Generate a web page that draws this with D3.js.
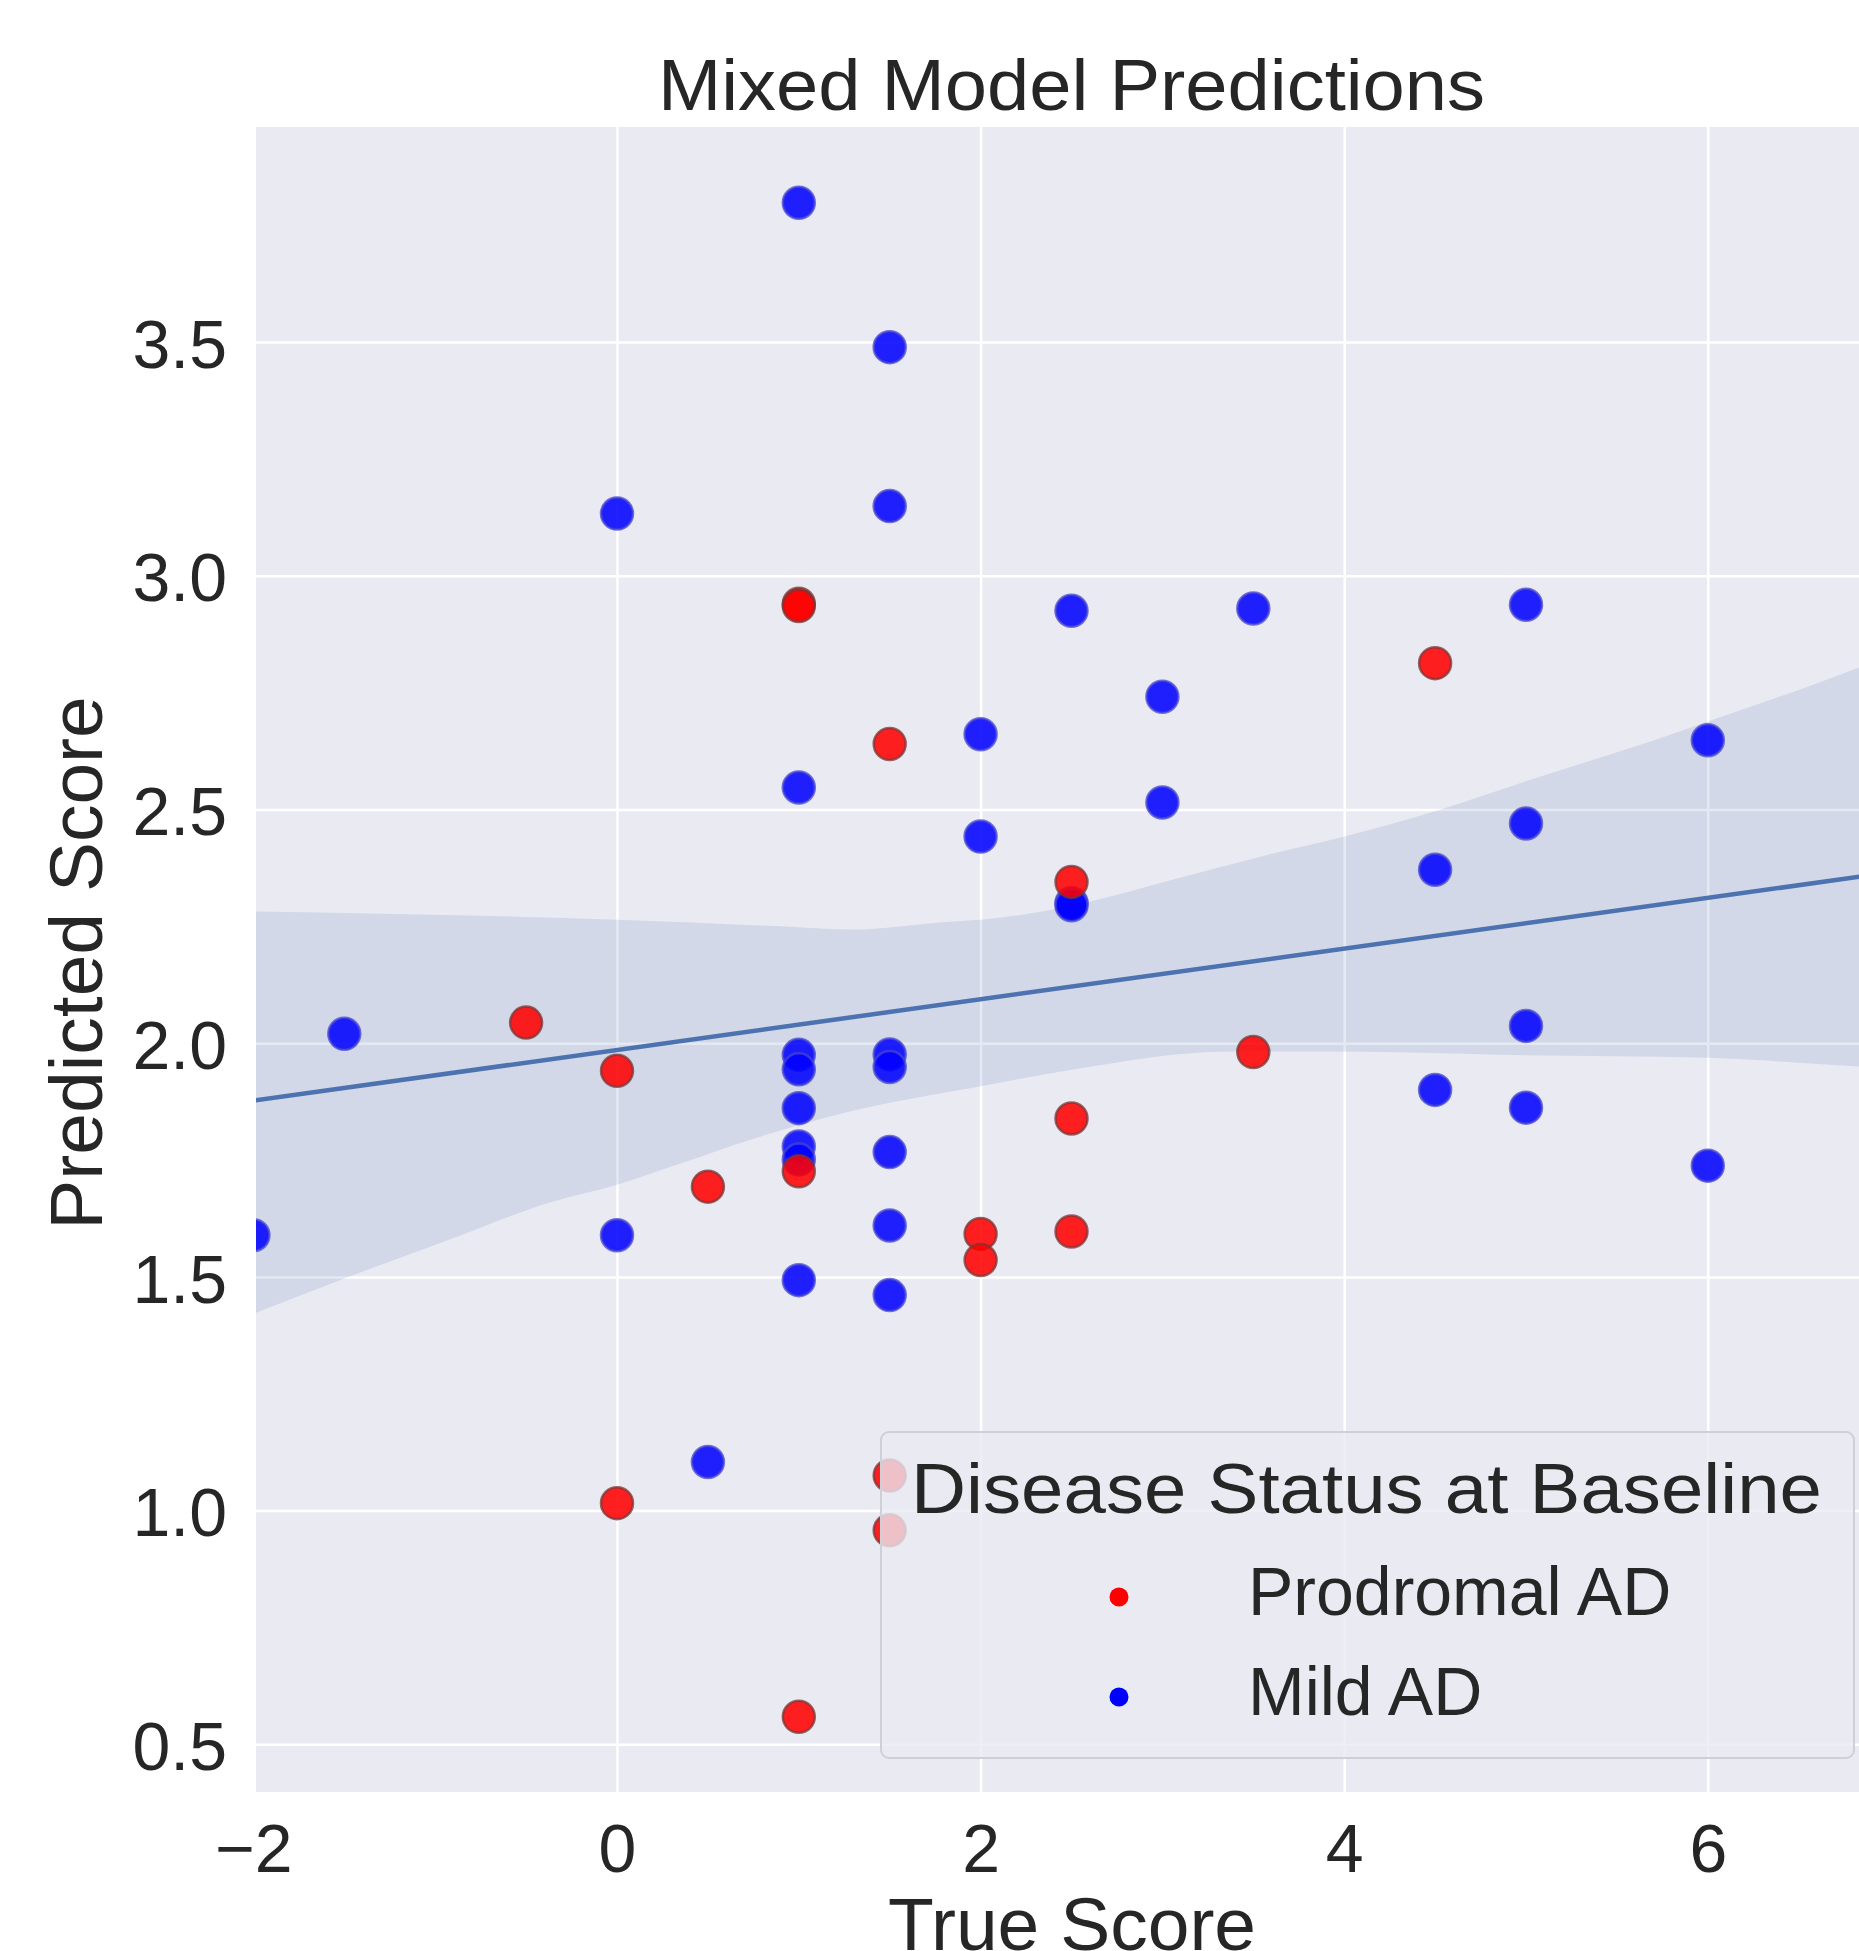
<!DOCTYPE html>
<html>
<head>
<meta charset="utf-8">
<script src="https://cdn.jsdelivr.net/npm/d3@7"></script>
<style>
  html, body { margin: 0; padding: 0; background: #ffffff; }
  svg { display: block; }
  text { font-family: "Liberation Sans", Arial, Helvetica, sans-serif; fill: #262626; }
</style>
</head>
<body>
<svg id="chart" width="1859" height="1951"></svg>
<script>
// ---------------- data ----------------
const seriesNames = ["Prodromal AD", "Mild AD"];
const seriesColors = ["#ff0000", "#0000ff"];

const prodromalTrue = [1, 1, 4.5, 1.5, 2.5, -0.5, 0, 3.5, 2.5, 0.5, 1, 2, 2, 2.5, 0, 1.5, 1.5, 1];
const prodromalPred = [2.94, 2.935, 2.813, 2.640, 2.345, 2.044, 1.941, 1.981, 1.839, 1.693, 1.726, 1.592, 1.536, 1.597, 1.016, 1.075, 0.958, 0.559];

const mildTrue = [1, 1.5, 0, 1.5, 2.5, 3.5, 5, 3, 2, 6, 1, 3, 5, 2, 4.5, 2.5, 2.5,
                  -1.5, 1, 1, 1.5, 1.5, 5, 1, 4.5, 5, 1, 1.5, 1, 6, -2, 0, 1.5, 1, 1.5, 0.5];
const mildPred = [3.798, 3.489, 3.133, 3.149, 2.925, 2.930, 2.938, 2.741, 2.661, 2.648, 2.547, 2.515, 2.470, 2.442, 2.371, 2.300, 2.295,
                  2.020, 1.975, 1.944, 1.976, 1.949, 2.037, 1.861, 1.900, 1.862, 1.779, 1.767, 1.751, 1.738, 1.589, 1.589, 1.610, 1.493, 1.461, 1.104];

// regression fit line and its confidence band
const regX = [-2, 7];
const regY = [1.877, 2.365];
const upperX = [-2,    0,     1,     1.28,  1.83,  2,     2.57,  3.06,  3.55,  4,     4.53,  5.02,  5.68,  6,     6.84,  7];
const upperY = [2.282, 2.264, 2.248, 2.243, 2.260, 2.264, 2.300, 2.350, 2.400, 2.442, 2.500, 2.563, 2.645, 2.688, 2.805, 2.830];
const lowerX = [-2,    -1.47, -0.92, -0.37, 0,     0.36,  0.73,  1.28,  2,     2.5,   3.37,  4,     4.86,  6,     6.84,  7];
const lowerY = [1.421, 1.501, 1.580, 1.659, 1.697, 1.744, 1.793, 1.854, 1.908, 1.943, 1.982, 1.982, 1.975, 1.969, 1.950, 1.947];

const xTicks = [-2, 0, 2, 4, 6];
const yTicks = [0.5, 1.0, 1.5, 2.0, 2.5, 3.0, 3.5];

const titleText = "Mixed Model Predictions";
const xLabelText = "True Score";
const yLabelText = "Predicted Score";
const legendTitleText = "Disease Status at Baseline";

// ---------------- layout ----------------
const plotLeft = 256, plotRight = 1889.6, plotTop = 127, plotBottom = 1792;
const svg = d3.select("#chart");

const x = d3.scaleLinear().domain([-2, 7]).range([253.4, 1889.6]);
const y = d3.scaleLinear().domain([0.398, 3.96]).range([plotBottom, plotTop]);

svg.append("defs").append("clipPath").attr("id", "plotclip")
  .append("rect").attr("x", plotLeft).attr("y", plotTop)
  .attr("width", plotRight - plotLeft).attr("height", plotBottom - plotTop);

// background
svg.append("rect").attr("x", plotLeft).attr("y", plotTop)
  .attr("width", plotRight - plotLeft).attr("height", plotBottom - plotTop)
  .attr("fill", "#eaeaf2");

// grid via axes
const gx = svg.append("g").attr("transform", `translate(0,${plotBottom})`)
  .call(d3.axisBottom(x).tickValues(xTicks).tickSize(-(plotBottom - plotTop)).tickFormat(d3.format("d")));
gx.select(".domain").remove();
gx.selectAll(".tick line").attr("stroke", "#ffffff").attr("stroke-width", 2.5);
gx.selectAll(".tick text").attr("font-size", 68).attr("fill", "#262626")
  .attr("dy", null).attr("y", 80);

const gy = svg.append("g").attr("transform", `translate(${plotLeft},0)`)
  .call(d3.axisLeft(y).tickValues(yTicks).tickSize(-(plotRight - plotLeft)).tickFormat(d3.format(".1f")).tickPadding(29));
gy.select(".domain").remove();
gy.selectAll(".tick line").attr("stroke", "#ffffff").attr("stroke-width", 2.5);
gy.selectAll(".tick text").attr("font-size", 68).attr("fill", "#262626").attr("dy", "0.37em");

const plot = svg.append("g").attr("clip-path", "url(#plotclip)");

// confidence band: upper edge left-to-right, then lower edge right-to-left
const upperPts = upperX.map((v, i) => [x(v), y(upperY[i])]);
const lowerPts = lowerX.map((v, i) => [x(v), y(lowerY[i])]);
const edge = d3.line().curve(d3.curveMonotoneX);
const upperPath = edge(upperPts);
const lowerPathRev = d3.line().curve(d3.curveMonotoneX)(lowerPts.slice().reverse().map(p => [p[0], p[1]]));
plot.append("path")
  .attr("d", upperPath + "L" + lowerPts[lowerPts.length - 1].join(",") +
             lowerPathRev.replace(/^M[^LC]*/, "") + "Z")
  .attr("fill", "#4c72b0").attr("fill-opacity", 0.15);

// regression line
plot.append("path").datum(regX.map((v, i) => [v, regY[i]]))
  .attr("d", d3.line().x(d => x(d[0])).y(d => y(d[1])))
  .attr("fill", "none").attr("stroke", "#4c72b0").attr("stroke-width", 4.5);

// points
const strokeColors = ["#7a3535", "#4646d0"];
const seriesData = [
  prodromalTrue.map((v, i) => ({ x: v, y: prodromalPred[i] })),
  mildTrue.map((v, i) => ({ x: v, y: mildPred[i] }))
];
[1, 0].forEach(si => {
  plot.append("g").selectAll("circle").data(seriesData[si]).join("circle")
    .attr("cx", d => x(d.x)).attr("cy", d => y(d.y)).attr("r", 16)
    .attr("fill", seriesColors[si]).attr("fill-opacity", 0.87)
    .attr("stroke", strokeColors[si]).attr("stroke-opacity", 0.75).attr("stroke-width", 2.5);
});

// title and axis labels
svg.append("text").attr("x", 1071.5).attr("y", 110).attr("text-anchor", "middle")
  .attr("font-size", 72).attr("textLength", 827).attr("lengthAdjust", "spacingAndGlyphs").text(titleText);
svg.append("text").attr("x", 1072).attr("y", 1950).attr("text-anchor", "middle")
  .attr("font-size", 75).text(xLabelText);
svg.append("text").attr("transform", "translate(102,963) rotate(-90)").attr("text-anchor", "middle")
  .attr("font-size", 75).text(yLabelText);

// legend
const legend = svg.append("g");
legend.append("rect").attr("x", 881).attr("y", 1432).attr("width", 973).attr("height", 326)
  .attr("rx", 8).attr("ry", 8)
  .attr("fill", "#eaeaf2").attr("fill-opacity", 0.8)
  .attr("stroke", "#cfcfd8").attr("stroke-width", 2);
legend.append("text").attr("x", 911).attr("y", 1513).attr("font-size", 71)
  .attr("textLength", 911).attr("lengthAdjust", "spacingAndGlyphs").text(legendTitleText);
const legendRows = [1615, 1715];
seriesNames.forEach((name, i) => {
  legend.append("circle").attr("cx", 1119).attr("cy", legendRows[i] - 18).attr("r", 9.5)
    .attr("fill", seriesColors[i]);
  legend.append("text").attr("x", 1248).attr("y", legendRows[i]).attr("font-size", 68).text(name);
});
</script>
</body>
</html>
